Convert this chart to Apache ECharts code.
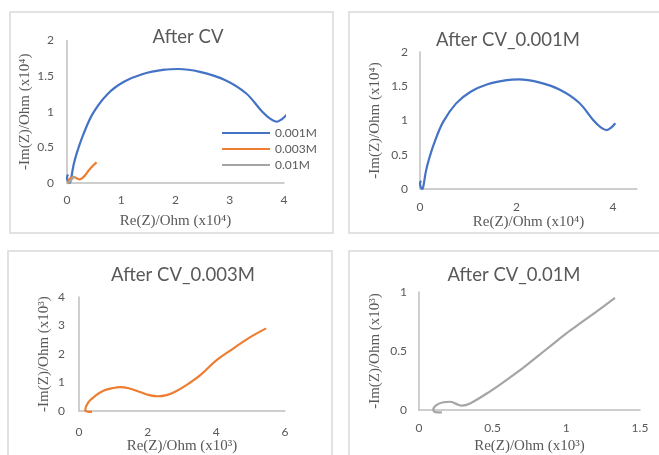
<!DOCTYPE html>
<html>
<head>
<meta charset="utf-8">
<script src="https://cdn.jsdelivr.net/npm/echarts@6/dist/echarts.min.js"></script>
<style>
html,body{margin:0;padding:0;background:#fff;}
#chart{width:659px;height:455px;}
</style>
</head>
<body>
<div id="chart"></div>
<script>
// ---- Data ----
var seriesNames = ['0.001M', '0.003M', '0.01M'];
var panelTitles = ['After CV', 'After CV_0.001M', 'After CV_0.003M', 'After CV_0.01M'];

// 0.001M, units x10^4 Ohm (panels 1 and 2)
var c001 = [[0.02,0.12],[0.0,0.08],[0.02,0.02],[0.05,0.0],[0.08,0.08],[0.12,0.25],[0.18,0.42],[0.30,0.68],[0.48,0.98],[0.75,1.25],[1.05,1.42],[1.40,1.53],[1.80,1.59],[2.05,1.60],[2.45,1.56],[2.90,1.45],[3.30,1.26],[3.60,1.00],[3.75,0.90],[3.87,0.86],[3.97,0.90],[4.05,0.96]];

// 0.003M, units x10^4 Ohm (panel 1)
var c003_p1 = [[0.038,-0.003],[0.025,-0.002],[0.018,0.003],[0.027,0.031],[0.047,0.053],[0.071,0.071],[0.10,0.081],[0.12,0.084],[0.145,0.080],[0.178,0.067],[0.205,0.056],[0.23,0.052],[0.255,0.056],[0.28,0.068],[0.315,0.093],[0.355,0.128],[0.40,0.178],[0.45,0.22],[0.50,0.26],[0.545,0.29]];

// 0.01M, units x10^4 Ohm (panel 1)
var c01_p1 = [[0.0155,-0.002],[0.011,-0.0018],[0.0097,0.0003],[0.012,0.0044],[0.0165,0.0066],[0.021,0.007],[0.0256,0.005],[0.029,0.0037],[0.035,0.0058],[0.048,0.0156],[0.06,0.026],[0.07,0.035],[0.08,0.045],[0.09,0.055],[0.10,0.065],[0.11,0.074],[0.12,0.083],[0.133,0.095]];

// 0.003M, units x10^3 Ohm (panel 3)
var c003 = [[0.38,-0.03],[0.25,-0.02],[0.18,0.03],[0.27,0.31],[0.47,0.53],[0.71,0.71],[1.0,0.81],[1.2,0.84],[1.45,0.80],[1.78,0.67],[2.05,0.56],[2.30,0.52],[2.55,0.56],[2.80,0.68],[3.15,0.93],[3.55,1.28],[4.0,1.78],[4.5,2.2],[5.0,2.6],[5.45,2.9]];

// 0.01M, units x10^3 Ohm (panel 4)
var c01 = [[0.155,-0.02],[0.11,-0.018],[0.097,0.003],[0.12,0.044],[0.165,0.066],[0.21,0.07],[0.256,0.05],[0.29,0.037],[0.35,0.058],[0.48,0.156],[0.6,0.26],[0.7,0.35],[0.8,0.45],[0.9,0.55],[1.0,0.65],[1.1,0.74],[1.2,0.83],[1.33,0.95]];

// axis ranges / labels
var xNames = ['Re(Z)/Ohm (x10\u2074)', 'Re(Z)/Ohm (x10\u2074)', 'Re(Z)/Ohm (x10\u00B3)', 'Re(Z)/Ohm (x10\u00B3)'];
var yNames = ['-Im(Z)/Ohm (x10\u2074)', '-Im(Z)/Ohm (x10\u2074)', '-Im(Z)/Ohm (x10\u00B3)', '-Im(Z)/Ohm (x10\u00B3)'];
var xMax = [4, 4.5, 6, 1.5];
var xInterval = [1, 2, 2, 0.5];
var yMax = [2, 2, 4, 1];
var yInterval = [0.5, 0.5, 1, 0.5];

// ---- Style / layout ----
var colors = ['#4472C4', '#ED7D31', '#A5A5A5'];
var textColor = '#595959';
var axisColor = '#BFBFBF';
var sansFont = 'Lato, "Open Sans", sans-serif';
var serifFont = '"Liberation Serif", "DejaVu Serif", serif';

var grids = [
  {left: 67, top: 40.5, width: 217, height: 142.5},
  {left: 420, top: 52, width: 217, height: 137},
  {left: 79, top: 297, width: 206, height: 117},
  {left: 419, top: 292, width: 221, height: 120}
];
var xLabelMargin = [11, 12, 15, 12];
var yLabelMargin = [13, 12, 14, 12];
var xNameGap = [31, 26, 27, 29];
var yNameGap = [34, 37, 27, 36];
var titlePos = [[183, 32], [503, 35], [178, 270], [509, 270]];
var boxes = [[10, 12, 323, 221], [349, 12, 320, 221], [8, 251, 324, 220], [349, 251, 320, 220]];

var xAxes = [], yAxes = [], titles = [];
for (var i = 0; i < 4; i++) {
  xAxes.push({
    type: 'value', gridIndex: i, min: 0, max: xMax[i], interval: xInterval[i],
    name: xNames[i], nameLocation: 'middle', nameGap: xNameGap[i],
    nameTextStyle: {fontFamily: serifFont, fontSize: 15, color: textColor},
    axisLine: {show: true, onZero: false, lineStyle: {color: axisColor, width: 1.5}},
    axisTick: {show: false}, splitLine: {show: false},
    axisLabel: {color: textColor, fontFamily: sansFont, fontSize: 12, margin: xLabelMargin[i], showMaxLabel: i === 1 ? false : true}
  });
  yAxes.push({
    type: 'value', gridIndex: i, min: 0, max: yMax[i], interval: yInterval[i],
    name: yNames[i], nameLocation: 'middle', nameGap: yNameGap[i], nameRotate: 90,
    nameTextStyle: {fontFamily: serifFont, fontSize: 15, color: textColor},
    axisLine: {show: true, onZero: false, lineStyle: {color: axisColor, width: 1.5}},
    axisTick: {show: false}, splitLine: {show: false},
    axisLabel: {color: textColor, fontFamily: sansFont, fontSize: 12, margin: yLabelMargin[i]}
  });
  titles.push({
    text: panelTitles[i], left: titlePos[i][0], top: titlePos[i][1],
    textAlign: 'center', textVerticalAlign: 'middle',
    textStyle: {color: textColor, fontFamily: sansFont, fontSize: 18.5, fontWeight: 'normal'}
  });
}

function mkSeries(name, data, idx, color) {
  return {
    name: name, type: 'line', xAxisIndex: idx, yAxisIndex: idx, data: data,
    symbol: 'none', smooth: 0.35, clip: false, silent: true,
    lineStyle: {color: color, width: 2.2}, itemStyle: {color: color}
  };
}

var series = [
  mkSeries(seriesNames[0], c001, 0, colors[0]),
  mkSeries(seriesNames[1], c003_p1, 0, colors[1]),
  mkSeries(seriesNames[2], c01_p1, 0, colors[2]),
  mkSeries(seriesNames[0], c001, 1, colors[0]),
  mkSeries(seriesNames[1], c003, 2, colors[1]),
  mkSeries(seriesNames[2], c01, 3, colors[2])
];

var graphics = boxes.map(function (b) {
  return {type: 'rect', shape: {x: b[0], y: b[1], width: b[2], height: b[3]},
    style: {fill: 'none', stroke: '#D9D9D9', lineWidth: 1.5}, z: -1, silent: true};
});

var chart = echarts.init(document.getElementById('chart'), null, {renderer: 'canvas'});
chart.setOption({
  animation: false,
  backgroundColor: '#ffffff',
  title: titles,
  grid: grids,
  xAxis: xAxes,
  yAxis: yAxes,
  legend: {
    data: seriesNames, orient: 'vertical', left: 217, top: 121,
    icon: 'rect', itemWidth: 48, itemHeight: 2.2, itemGap: 2,
    textStyle: {color: textColor, fontFamily: sansFont, fontSize: 12, lineHeight: 14}, selectedMode: false
  },
  graphic: graphics,
  series: series
});
</script>
</body>
</html>
